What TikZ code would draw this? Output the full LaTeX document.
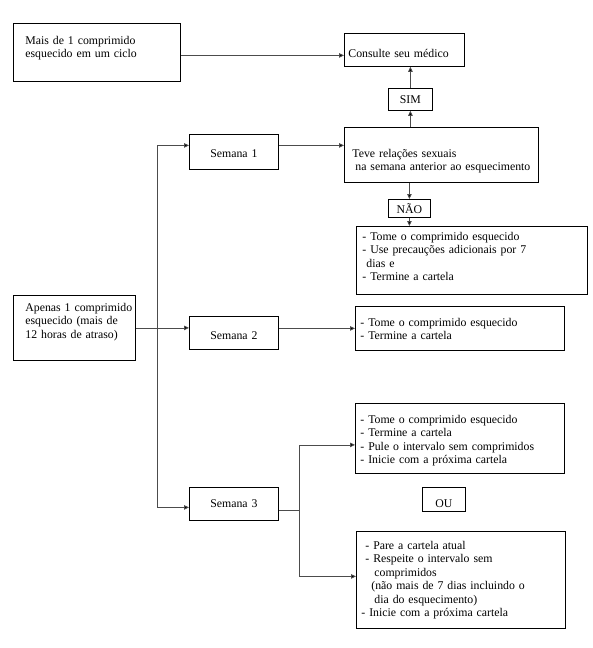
\documentclass[tikz,border=0pt]{standalone}
\usepackage{fontspec}
\setmainfont{Liberation Serif}
\usetikzlibrary{arrows.meta}

\tikzset{
  caixa/.style={draw=black, line width=0.8pt, anchor=north west, align=left, inner ysep=0pt, inner xsep=5pt},
  rotulo/.style={caixa, align=center, inner xsep=2pt},
  seta/.style={draw=black!70, line width=0.8pt, -{Triangle[length=5pt, width=4.5pt, fill=black]}},
  linha/.style={draw=black!70, line width=0.8pt}
}

\begin{document}
\begin{tikzpicture}[x=1pt, y=-1pt, every node/.style={font=\fontsize{11.8}{13.5}\selectfont}]
\useasboundingbox (0,0) rectangle (593,648);

\node[caixa, inner xsep=12pt, text width=143pt, text height=21pt, text depth=37pt] (mais) at (13,23){Mais de 1 comprimido\\esquecido em um ciclo};
\node[caixa, inner xsep=4pt, text width=112pt, text height=24pt, text depth=9pt] (consulte) at (344,33){Consulte seu médico};
\node[rotulo, text width=40pt, text height=15pt, text depth=7pt] (sim) at (388,88){SIM};

\node[caixa, inner xsep=8pt, text width=178pt, text height=30pt, text depth=25pt] (teve) at (344,127){Teve relações sexuais\\\hspace*{3pt}na semana anterior ao esquecimento};
\node[rotulo, text width=85pt, text height=23pt, text depth=12pt] (semana1) at (189,134){Semana 1};
\node[rotulo, text width=38pt, text height=14pt, text depth=4pt] (nao) at (388,199){NÃO};
\node[caixa, inner xsep=6pt, text width=219pt, text height=14pt, text depth=54pt] (acao1) at (356,226){- Tome o comprimido esquecido\\- Use precauções adicionais por 7\\\hspace*{4pt}dias e\\- Termine a cartela};

\node[caixa, inner xsep=12pt, text width=98pt, text height=16pt, text depth=49pt] (apenas) at (13,295){\mbox{Apenas 1 comprimido}\\esquecido (mais de\\12 horas de atraso)};
\node[rotulo, text width=85pt, text height=23pt, text depth=10pt] (semana2) at (189,316){Semana 2};
\node[caixa, text width=199pt, text height=20pt, text depth=24pt] (acao2) at (355,306){- Tome o comprimido esquecido\\- Termine a cartela};

\node[caixa, text width=199pt, text height=20pt, text depth=50pt] (acao3) at (355,403){- Tome o comprimido esquecido\\- Termine a cartela\\- Pule o intervalo sem comprimidos\\- Inicie com a próxima cartela};
\node[rotulo, text width=39pt, text height=20pt, text depth=4pt] (ou) at (422,487){OU};
\node[rotulo, text width=85pt, text height=20pt, text depth=13pt] (semana3) at (189,487){Semana 3};
\node[caixa, text width=199pt, text height=18pt, text depth=79pt] (acao4) at (356,531){\hspace*{4pt}- Pare a cartela atual\\\hspace*{4pt}- Respeite o intervalo sem\\\hspace*{13pt}comprimidos\\\hspace*{10pt}(não mais de 7 dias incluindo o\\\hspace*{13pt}dia do esquecimento)\\- Inicie com a próxima cartela};

\draw[seta] ([yshift=-3pt]mais.east) -- ([yshift=-3pt]mais.east -| consulte.west);
\draw[seta] (sim.north) -- (sim.north |- consulte.south);
\draw[seta] (sim.south |- teve.north) -- (sim.south);
\draw[seta] (nao.north |- teve.south) -- (nao.north);
\draw[seta] (nao.south) -- (nao.south |- acao1.north);
\draw[seta] ([yshift=6.5pt]semana1.east) -- ([yshift=6.5pt]semana1.east -| teve.west);

\coordinate (tronco) at ([xshift=22pt]apenas.east);
\draw[seta] (apenas.east) -- (apenas.east -| semana2.west);
\draw[seta] (tronco) |- ([yshift=6.5pt]semana1.west);
\draw[seta] (tronco) |- ([yshift=-3.5pt]semana3.west);
\draw[seta] (acao2.west -| semana2.east) -- (acao2.west);

\coordinate (bifurca) at ([xshift=21pt, yshift=-6.5pt]semana3.east);
\draw[linha] ([yshift=-6.5pt]semana3.east) -- (bifurca);
\draw[seta] (bifurca) |- ([yshift=-6.5pt]acao3.west);
\draw[seta] (bifurca) |- ([yshift=3.5pt]acao4.west);
\end{tikzpicture}
\end{document}
